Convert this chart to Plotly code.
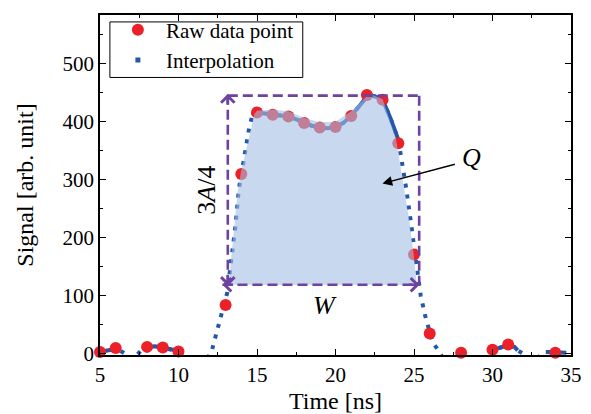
import plotly.graph_objects as go

# raw samples
raw_time = [5, 6, 8, 9, 10, 13, 14, 15, 16, 17, 18, 19, 20, 21, 22, 23, 24, 25, 26, 28, 30, 31, 34]
raw_signal = [2, 9, 11, 10, 3, 83, 309, 415, 411, 408, 397, 389, 390, 409, 445, 437, 362, 170, 34, 1, 6, 15, 1]

# interpolated curve (negative parts are clipped by the axis)
interp_time = [5.0, 5.4, 5.7, 6.0, 6.3, 6.55, 6.8, 7.2, 7.45, 7.7, 8.0, 8.5, 9.0, 9.5, 10.0,
               10.35, 10.7, 11.7, 12.08, 12.4, 12.76, 13.1, 13.36, 13.63, 13.84, 14.0, 14.27,
               14.48, 14.7, 14.9, 15.0, 15.5, 16.0, 16.5, 17.0, 17.5, 18.0, 18.5, 19.0, 19.5,
               20.0, 20.5, 21.0, 21.5, 22.0, 22.3, 22.6, 23.0, 23.5, 24.0, 24.27, 24.48, 24.7,
               24.9, 25.05, 25.26, 25.43, 25.71, 26.0, 26.18, 26.5, 26.67, 27.0, 29.3, 29.64,
               29.8, 30.0, 30.3, 30.66, 31.0, 31.4, 31.6, 31.9, 32.2, 32.9, 33.17, 33.4, 33.7,
               34.0, 34.3, 34.7]
interp_signal = [2, 4, 6, 9, 5, 0, -10, -6, 0, 7, 11, 12, 10, 7, 3,
                 0, -12, -12, 0, 33, 73, 104, 161, 220, 282, 308, 348,
                 385, 410, 416, 415, 413, 411, 410, 408, 403, 397, 392, 389, 388,
                 390, 397, 409, 425, 442, 444, 442, 437, 405, 368, 325, 288, 246,
                 207, 180, 130, 99, 65, 36, 19, 7, 0, -15, -10, 0,
                 4, 6, 9, 11, 13, 11, 5, 0, -10, -8, 0, 2, 2,
                 1, 1, 1]

# spans where the interpolation dots are so close they look like a solid line
dense_spans = [(5.0, 6.3), (7.7, 10.0), (14.7, 24.0), (29.8, 31.6), (33.4, 34.7)]

# shaded pulse area Q
fill_time = [13.25, 13.32, 13.57, 13.78, 13.99, 14.31, 14.63, 14.84, 15.0, 16, 17, 18, 19, 20,
             21, 21.5, 22, 22.3, 23.0, 23.84, 24.38, 24.7, 24.97, 25.18]
fill_signal = [118, 155, 223, 280, 314, 354, 388, 413, 418, 420, 417, 406, 398, 399,
               417, 430, 443, 446, 438, 371, 286, 229, 172, 118]

RED = 'rgb(236,32,40)'
BLUE = 'rgb(36,86,170)'
PURPLE = 'rgb(110,66,160)'

fig = go.Figure()

# interpolation, dotted
fig.add_trace(go.Scatter(x=interp_time, y=interp_signal, mode='lines',
                         line=dict(color=BLUE, width=4, dash='4px,7px'),
                         showlegend=False, hoverinfo='skip'))
for t0, t1 in dense_spans:
    idx = [i for i, t in enumerate(interp_time) if t0 <= t <= t1]
    fig.add_trace(go.Scatter(x=[interp_time[i] for i in idx], y=[interp_signal[i] for i in idx],
                             mode='lines', line=dict(color=BLUE, width=4),
                             showlegend=False, hoverinfo='skip'))

# legend proxy for the interpolation (small square)
fig.add_trace(go.Scatter(x=[None], y=[None], mode='markers', name='Interpolation',
                         marker=dict(symbol='square', size=5, color=BLUE),
                         legendgroup='b', legendrank=2))

fig.add_trace(go.Scatter(x=raw_time, y=raw_signal, mode='markers', name='Raw data point',
                         marker=dict(color=RED, size=12), cliponaxis=False,
                         legendgroup='a', legendrank=1))

fig.add_trace(go.Scatter(x=fill_time, y=fill_signal, mode='lines', fill='toself',
                         fillcolor='rgba(163,190,227,0.6)', line=dict(width=0),
                         showlegend=False, hoverinfo='skip'))

# dashed box
box_dash = dict(color=PURPLE, width=2.6, dash='10px,5px')
fig.add_shape(type='line', x0=13.14, x1=25.33, y0=444, y1=444, line=box_dash)
fig.add_shape(type='line', x0=25.33, x1=25.33, y0=444, y1=118, line=box_dash)
fig.add_shape(type='line', x0=13.14, x1=13.14, y0=118, y1=447, line=box_dash)
fig.add_shape(type='line', x0=12.8, x1=25.35, y0=118, y1=118, line=box_dash)

# legend frame (drawn as a shape so it hugs the entries like the original)
fig.add_shape(type='rect', xref='paper', yref='paper', x0=0.021, x1=0.4305, y0=0.8163, y1=0.9796,
              fillcolor='white', line=dict(color='black', width=1), layer='above')

arrow_style = dict(showarrow=True, text='', arrowhead=4, arrowsize=1, arrowwidth=2.6,
                   arrowcolor=PURPLE)
fig.add_annotation(x=13.14, y=447, ax=0, ay=12, **arrow_style)
fig.add_annotation(x=13.14, y=116, ax=0, ay=-12, **arrow_style)
fig.add_annotation(x=12.8, y=118, ax=12, ay=0, **arrow_style)
fig.add_annotation(x=25.35, y=118, ax=-12, ay=0, **arrow_style)

label_font = dict(family='Liberation Serif', size=26, color='black')
fig.add_annotation(x=11.78, y=281, text='3<i>A</i>/4', textangle=-90, showarrow=False, font=label_font)
fig.add_annotation(x=19.36, y=83, text='<i>W</i>', showarrow=False, font=label_font)
fig.add_annotation(x=28.66, y=337, text='<i>Q</i>', showarrow=False, font=label_font)
fig.add_annotation(x=22.99, y=292.5, ax=27.7, ay=326.5, axref='x', ayref='y', text='',
                   showarrow=True, arrowhead=2, arrowsize=1.3, arrowwidth=1.5, arrowcolor='black')

axis_style = dict(showline=True, linecolor='black', linewidth=1.5, mirror='ticks',
                  ticks='inside', ticklen=6, tickwidth=1.2, tickcolor='black',
                  showgrid=False, zeroline=False, automargin=False,
                  tickfont=dict(family='Liberation Serif', size=21, color='black'))

fig.update_xaxes(range=[5, 35], tick0=5, dtick=5,
                 minor=dict(dtick=2.5, ticks='inside', ticklen=3, tickcolor='black'),
                 title=dict(text='Time [ns]', font=dict(size=24)), **axis_style)
fig.update_yaxes(range=[-3, 583], tick0=0, dtick=100,
                 minor=dict(dtick=50, ticks='inside', ticklen=3, tickcolor='black'),
                 title=dict(text='Signal [arb. unit]', font=dict(size=24), standoff=22), **axis_style)

fig.update_layout(
    width=591, height=414,
    margin=dict(l=100, r=20, t=10, b=59),
    plot_bgcolor='white', paper_bgcolor='white',
    font=dict(family='Liberation Serif', size=21, color='black'),
    legend=dict(x=0.021, y=1.016, xanchor='left', yanchor='top', bgcolor='rgba(0,0,0,0)',
                borderwidth=0, tracegroupgap=0, itemwidth=46,
                traceorder='grouped', font=dict(size=21)),
)

# page body has a default 8px margin; drop it so the figure sits at the window origin
fig.write_html("out.html", config={'displayModeBar': False},
               post_script="document.body.style.margin='0px';")
